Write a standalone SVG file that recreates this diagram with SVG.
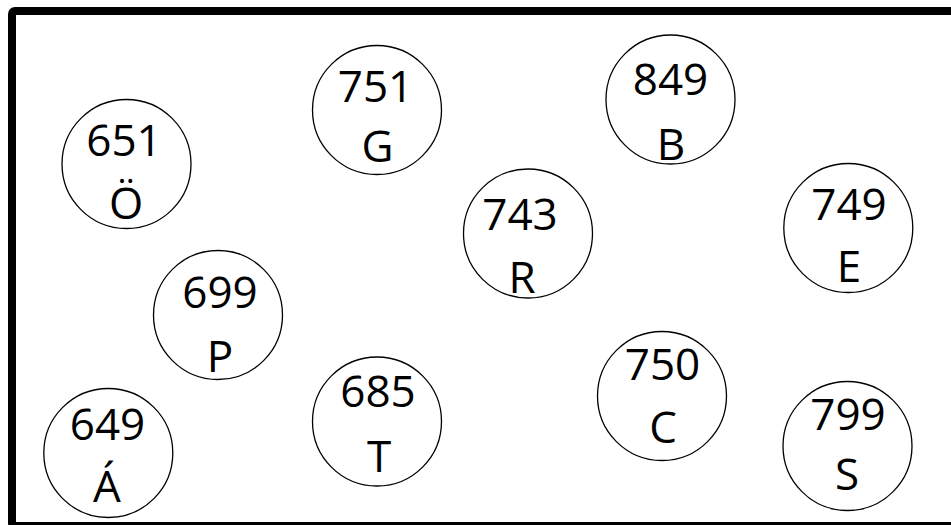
<svg xmlns="http://www.w3.org/2000/svg" width="951" height="525" viewBox="0 0 951 525">
<style>
.n{fill:#fff;stroke:#000;stroke-width:1.3}
text{font-family:"Open Sans","Noto Sans","DejaVu Sans",sans-serif;font-size:44px;fill:#000;text-anchor:middle}
</style>
<rect x="0" y="0" width="951" height="525" fill="#fff"/>
<rect x="12" y="11" width="960" height="515" rx="3" fill="none" stroke="#000" stroke-width="8"/>
<g id="connectors"></g>
<g id="node-O"><circle class="n" cx="126.5" cy="164" r="64.5"/><text x="124" y="156">651</text><text x="126" y="219">Ö</text></g>
<g id="node-G"><circle class="n" cx="377" cy="110" r="64.5"/><text x="375.5" y="102">751</text><text x="377.5" y="162">G</text></g>
<g id="node-B"><circle class="n" cx="670.5" cy="99.5" r="64.5"/><text x="670.5" y="95">849</text><text x="671" y="160">B</text></g>
<g id="node-R"><circle class="n" cx="528" cy="233.5" r="64.5"/><text x="520" y="230">743</text><text x="522" y="293">R</text></g>
<g id="node-E"><circle class="n" cx="848.3" cy="228" r="64.5"/><text x="849" y="220">749</text><text x="849" y="282">E</text></g>
<g id="node-P"><circle class="n" cx="218" cy="315" r="64.5"/><text x="220" y="308">699</text><text x="220" y="372">P</text></g>
<g id="node-T"><circle class="n" cx="377" cy="421.5" r="64.5"/><text x="378" y="407">685</text><text x="379" y="472">T</text></g>
<g id="node-C"><circle class="n" cx="662" cy="396" r="64.5"/><text x="662.5" y="380">750</text><text x="663" y="443">C</text></g>
<g id="node-A"><circle class="n" cx="108.3" cy="453" r="64.5"/><text x="107.5" y="440">649</text><text x="107" y="502">Á</text></g>
<g id="node-S"><circle class="n" cx="847.5" cy="446" r="64.5"/><text x="848" y="430">799</text><text x="847" y="490">S</text></g>
</svg>
